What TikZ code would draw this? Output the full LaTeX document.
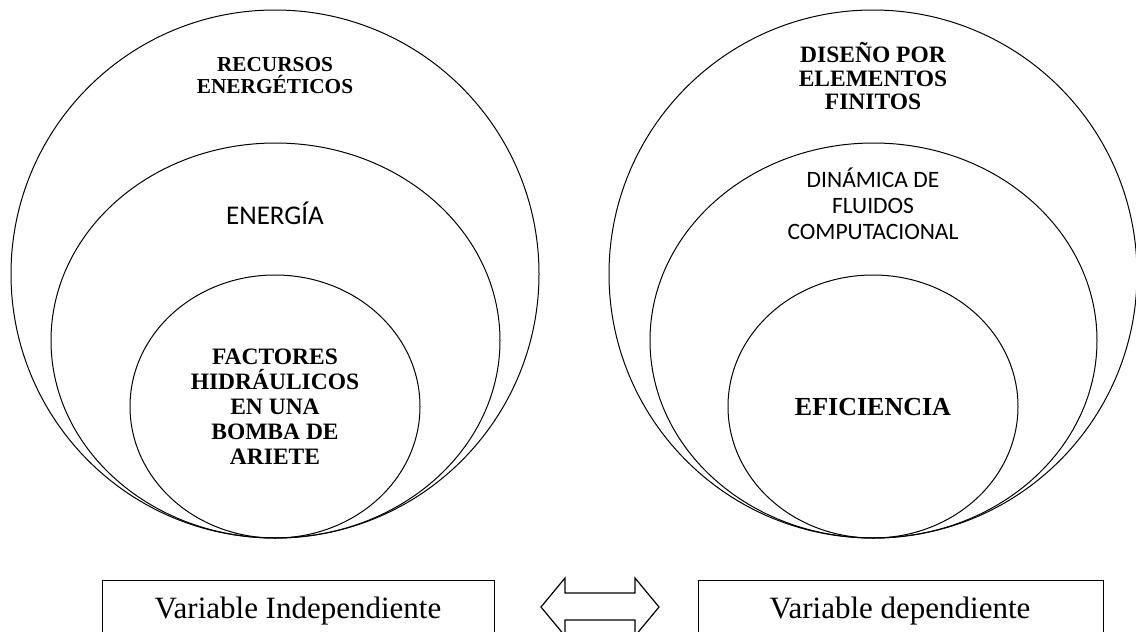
\documentclass[tikz,border=0pt]{standalone}
\usepackage{fontspec}
\setmainfont{Liberation Serif}
\newfontfamily\calfont{Carlito}
\usetikzlibrary{shapes.geometric}
\tikzset{
  ring/.style={draw, ellipse, line width=1pt, inner sep=0pt, outer sep=0pt},
  boldlbl/.style={align=center, inner sep=0pt, font=\bfseries},
  sanslbl/.style={align=center, inner sep=0pt},
  varbox/.style={draw, line width=1.3pt, inner sep=0pt, minimum height=80pt},
  vartext/.style={inner sep=0pt, anchor=base, font=\fontsize{31}{34}\selectfont}
}
\begin{document}
\begin{tikzpicture}[x=1pt, y=-1pt]
\useasboundingbox (0,0) rectangle (1136,632);
\clip (0,0) rectangle (1136,632);
% left rings
\node[ring, minimum width=528pt, minimum height=528pt] (lo) at (275,274) {};
\node[ring, minimum width=449pt, minimum height=395pt] (lm) at (275.5,340.5) {};
\node[ring, minimum width=290pt, minimum height=263pt] (li) at (275,406.5) {};
% right rings
\node[ring, minimum width=528pt, minimum height=528pt] (ro) at (873,274) {};
\node[ring, minimum width=447pt, minimum height=395pt] (rm) at (873.5,340.5) {};
\node[ring, minimum width=290pt, minimum height=263pt] (ri) at (873,406.5) {};
% left labels
\node[boldlbl, font=\bfseries\fontsize{21.3}{22}\selectfont] (t1) at (275,76) {RECURSOS\\ENERG\'ETICOS};
\node[sanslbl, font=\calfont\fontsize{27}{30}\selectfont] (t2) at (275,213) {ENERG\'IA};
\node[boldlbl, font=\bfseries\fontsize{23.5}{25}\selectfont] (t3) at (275,407) {FACTORES\\HIDR\'AULICOS\\EN UNA\\BOMBA DE\\ARIETE};
% right labels
\node[boldlbl, font=\bfseries\fontsize{23.5}{23.5}\selectfont] (t4) at (873,76.5) {DISE\~NO POR\\ELEMENTOS\\FINITOS};
\node[sanslbl, font=\calfont\fontsize{23.5}{26}\selectfont] (t5) at (873,204) {DIN\'AMICA DE\\FLUIDOS\\COMPUTACIONAL};
\node[boldlbl, font=\bfseries\fontsize{26}{28}\selectfont] (t6) at (873,407) {EFICIENCIA};
% bottom boxes
\node[varbox, minimum width=392pt, anchor=north west] (bl) at (102,580) {};
\node[varbox, minimum width=405pt, anchor=north west] (br) at (698,580) {};
\node[vartext] (bltxt) at (298,618) {Variable Independiente};
\node[vartext] (brtxt) at (900,618) {Variable dependiente};
% double arrow
\coordinate (al) at (541,607);
\coordinate (ar) at (659,607);
\draw[line width=1.2pt, line join=miter] (al) -- (565,578) -- (565,593) -- (635,593) -- (635,578) -- (ar) -- (635,636) -- (635,620) -- (565,620) -- (565,636) -- cycle;
\end{tikzpicture}
\end{document}
